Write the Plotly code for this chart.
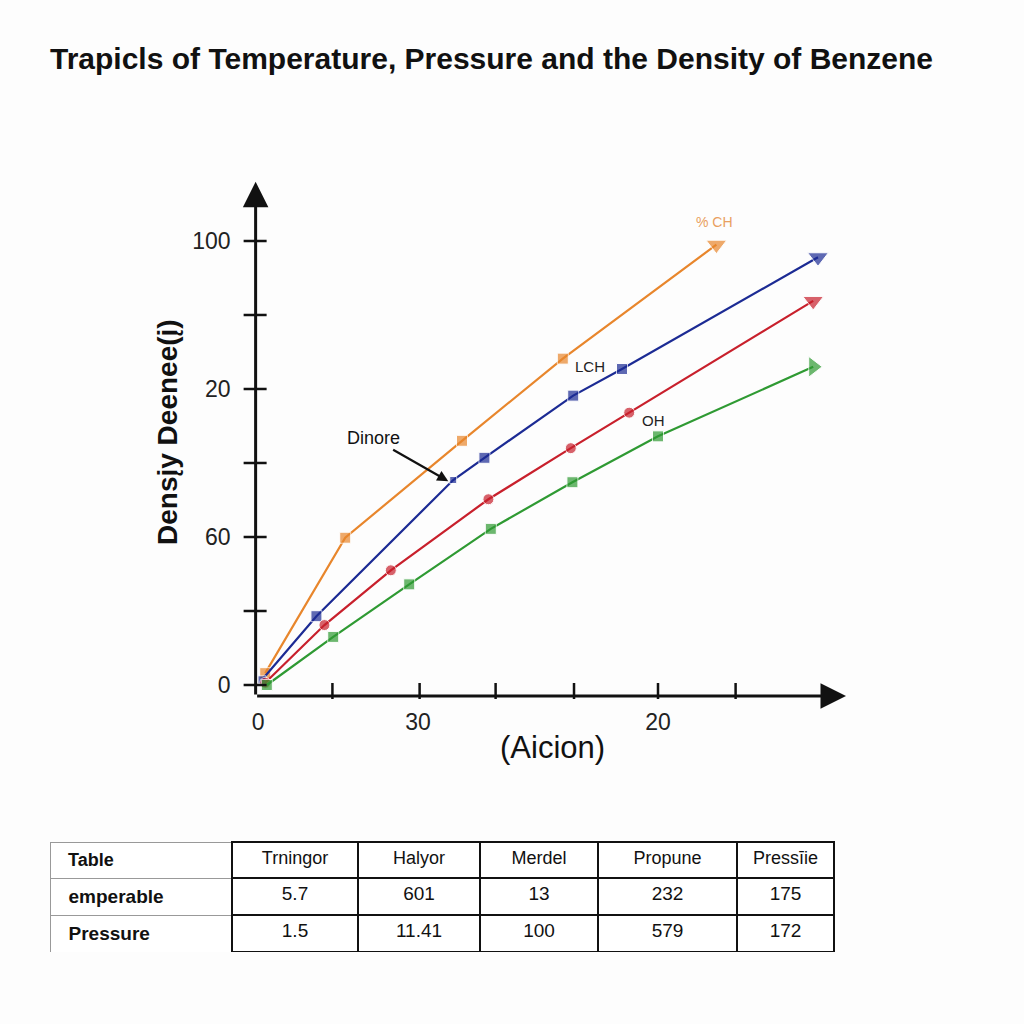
import plotly.graph_objects as go

# ---------------- data ----------------
title_text = "Trapicls of Temperature, Pressure and the Density of Benzene"
y_title = "Densįy Deenee(į)"
x_title = "(Aicion)"

x_tick_vals = [0, 2, 5]
x_tick_text = ["0", "30", "20"]
x_tick_marks = [0.93, 2.02, 2.97, 3.95, 5.0, 5.97]

y_tick_vals = [0, 2, 4, 6]
y_tick_text = ["0", "60", "20", "100"]
y_tick_marks = [0, 1, 2, 3, 4, 5, 6]

orange_x = [0.09, 1.09, 2.55, 3.81, 5.73]
orange_y = [0.16, 1.99, 3.30, 4.41, 5.95]

blue_x = [0.05, 0.73, 2.44, 2.83, 3.94, 4.55, 7.0]
blue_y = [0.07, 0.93, 2.77, 3.07, 3.91, 4.27, 5.78]

red_x = [0.09, 0.83, 1.66, 2.88, 3.91, 4.64, 6.94]
red_y = [0.03, 0.81, 1.55, 2.51, 3.20, 3.68, 5.19]

green_x = [0.11, 0.94, 1.89, 2.91, 3.93, 5.0, 6.94]
green_y = [0.0, 0.65, 1.36, 2.11, 2.74, 3.36, 4.30]

table_header = ["Table", "Trningor", "Halyor", "Merdel", "Propune", "Pressīie"]
table_row_labels = ["emperable", "Pressure"]
table_cols = [
    ["5.7", "1.5"],
    ["601", "11.41"],
    ["13", "100"],
    ["232", "579"],
    ["175", "172"],
]

# ---------------- styles ----------------
C_OR = "#e8862c"
C_BL = "#1c2b94"
C_RD = "#c8202c"
C_GR = "#2f9a33"
FONT = "Liberation Sans"

fig = go.Figure()

def add_series(xs, ys, color, body_symbol, end_symbol, sizes=None):
    n = len(xs)
    symbols = [body_symbol] * (n - 1) + [end_symbol]
    if sizes is None:
        sizes = [11] * (n - 1) + [18]
    fig.add_trace(go.Scatter(
        x=xs, y=ys, mode="lines+markers",
        line=dict(color=color, width=2.2),
        marker=dict(symbol=symbols, size=sizes, color=color),
        showlegend=False, hoverinfo="skip", cliponaxis=False,
    ))

add_series(orange_x, orange_y, C_OR, "square", "triangle-down")
add_series(blue_x, blue_y, C_BL, "square", "triangle-down",
           sizes=[8, 11, 7, 11, 11, 11, 18])
add_series(red_x, red_y, C_RD, "circle", "triangle-down")
add_series(green_x, green_y, C_GR, "square", "triangle-right")

# axis lines with arrows
AX_X = -0.03
AX_Y = -0.15
X_END = 7.35
Y_END = 6.8
fig.add_annotation(x=X_END, y=AX_Y, ax=AX_X, ay=AX_Y, xref="x", yref="y",
                   axref="x", ayref="y", text="", showarrow=True,
                   arrowhead=2, arrowsize=1.7, arrowwidth=3, arrowcolor="#111")
fig.add_annotation(x=AX_X, y=Y_END, ax=AX_X, ay=AX_Y, xref="x", yref="y",
                   axref="x", ayref="y", text="", showarrow=True,
                   arrowhead=2, arrowsize=1.7, arrowwidth=3, arrowcolor="#111")

shapes = []
for v in y_tick_marks:
    shapes.append(dict(type="line", xref="x", yref="y", xsizemode="pixel",
                       xanchor=AX_X, x0=-12, x1=11, y0=v, y1=v,
                       line=dict(color="#111", width=2.5)))
for v in x_tick_marks:
    shapes.append(dict(type="line", xref="x", yref="y", ysizemode="pixel",
                       yanchor=AX_Y, y0=-3, y1=13, x0=v, x1=v,
                       line=dict(color="#111", width=2.5)))
fig.update_layout(shapes=shapes)

# text annotations
fig.add_annotation(x=5.71, y=6.26, xref="x", yref="y", text="% CH", showarrow=False,
                   font=dict(family=FONT, size=14, color="#e9a060"))
fig.add_annotation(x=4.15, y=4.30, xref="x", yref="y", text="LCH", showarrow=False,
                   font=dict(family=FONT, size=15, color="#222"))
fig.add_annotation(x=4.94, y=3.58, xref="x", yref="y", text="OH", showarrow=False,
                   font=dict(family=FONT, size=15, color="#222"))
fig.add_annotation(x=2.4, y=2.74, xref="x", yref="y", text="Dinore", showarrow=True,
                   ax=-77, ay=-44, arrowhead=2, arrowsize=1, arrowwidth=2.2,
                   arrowcolor="#111", standoff=2,
                   font=dict(family=FONT, size=18, color="#111"))

# axis titles
fig.add_annotation(x=167 / 1024, y=1 - 432 / 1024, xref="paper", yref="paper",
                   xanchor="center", yanchor="middle",
                   text="<b>" + y_title + "</b>", textangle=-90, showarrow=False,
                   font=dict(family=FONT, size=28, color="#111"))
fig.add_annotation(x=552 / 1024, y=1 - 747 / 1024, xref="paper", yref="paper",
                   xanchor="center", yanchor="middle",
                   text=x_title, showarrow=False,
                   font=dict(family=FONT, size=31, color="#111"))

# table
col_w = [182, 126, 122, 118, 139, 97]
pad = "\u00a0\u00a0"
first_col = ["<b>" + pad + s + "</b>" for s in table_row_labels]
fig.add_trace(go.Table(
    domain=dict(x=[50 / 1024, 834 / 1024], y=[1 - 952 / 1024, 1 - 842 / 1024]),
    columnwidth=col_w,
    header=dict(
        values=["<b>" + pad + table_header[0] + "</b>"] + table_header[1:],
        align=["left"] + ["center"] * 5,
        font=dict(family=FONT, size=18, color="#111"),
        line=dict(color=["#999"] + ["#111"] * 5, width=[1] + [2.5] * 5),
        fill=dict(color="white"),
        height=31,
    ),
    cells=dict(
        values=[first_col] + table_cols,
        align=["left"] + ["center"] * 5,
        font=dict(family=FONT, size=19, color="#111"),
        line=dict(color=["#999"] + ["#111"] * 5, width=[1] + [2.5] * 5),
        fill=dict(color="white"),
        height=30,
    ),
))

fig.update_layout(
    width=1024, height=1024,
    margin=dict(l=0, r=0, t=0, b=0),
    paper_bgcolor="#fdfdfd", plot_bgcolor="#fdfdfd",
    title=dict(text="<b>" + title_text + "</b>", x=50 / 1024, xanchor="left",
               y=1 - 58 / 1024, yanchor="middle",
               font=dict(family=FONT, size=30, color="#111")),
    xaxis=dict(domain=[0.2301, 0.8457], range=[-0.28, 7.6],
               tickvals=x_tick_vals, ticktext=x_tick_text, showgrid=False,
               zeroline=False, showline=False, ticks="", ticklabelstandoff=6,
               tickfont=dict(family=FONT, size=23, color="#222")),
    yaxis=dict(domain=[0.3166, 0.8514], range=[-0.2, 7.2],
               tickvals=y_tick_vals, ticktext=y_tick_text, showgrid=False,
               zeroline=False, showline=False, ticks="", ticklabelstandoff=4,
               tickfont=dict(family=FONT, size=23, color="#222")),
)

fig.write_html("out.html")
